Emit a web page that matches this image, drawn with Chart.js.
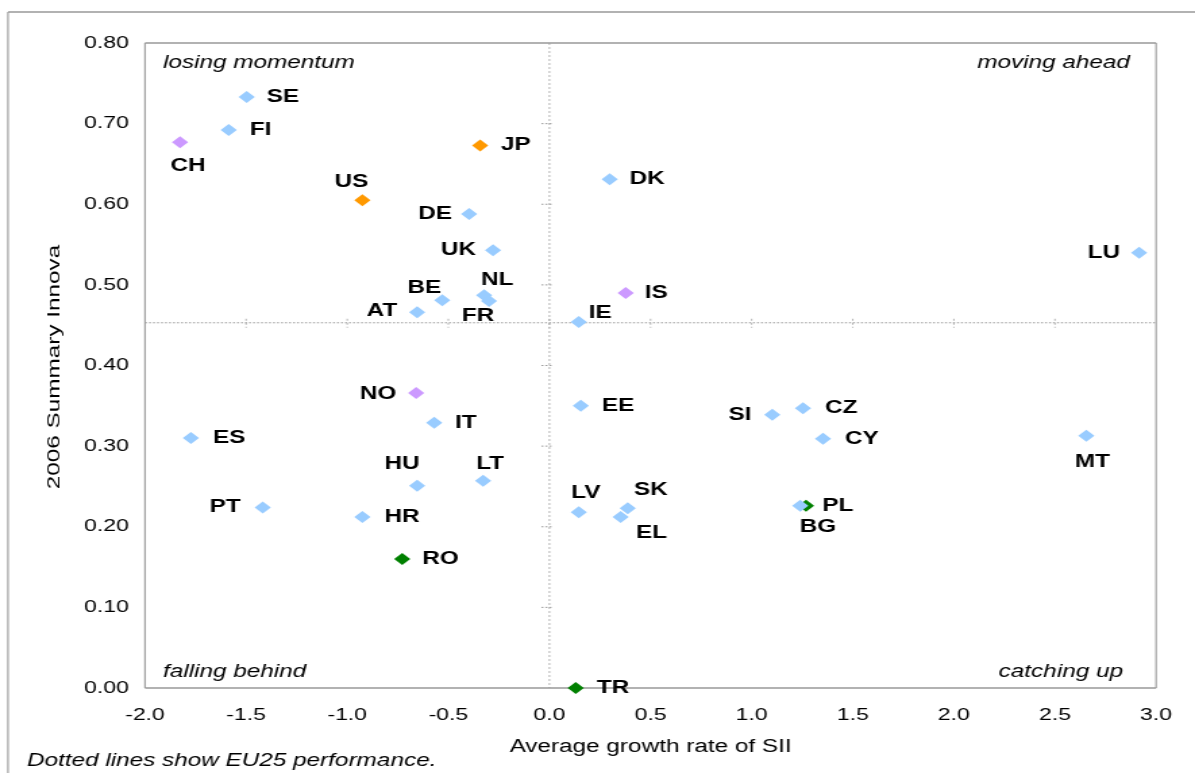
<!DOCTYPE html>
<html>
<head>
<meta charset="utf-8">
<title>Summary Innovation Index vs growth</title>
<script src="https://cdn.jsdelivr.net/npm/chart.js@4.4.1/dist/chart.umd.min.js"></script>
<style>
  html, body { margin: 0; padding: 0; background: #fff; overflow: hidden; }
  #wrap { width: 885px; height: 773px; transform-origin: 0 0; }
</style>
</head>
<body>
<div id="wrap"><canvas id="chart" width="885" height="773"></canvas></div>
<script>
// EU member states
const euCodes  = ['SE', 'FI', 'DK', 'DE', 'UK', 'LU', 'NL', 'FR', 'BE', 'AT', 'IE', 'EE', 'SI', 'CZ', 'IT', 'ES', 'CY', 'MT', 'HU', 'LT', 'PT', 'HR', 'LV', 'SK', 'EL', 'PL'];
const euGrowth = [-1.497, -1.586, 0.298, -0.397, -0.279, 2.916, -0.323, -0.299, -0.530, -0.654, 0.145, 0.155, 1.102, 1.254, -0.570, -1.773, 1.353, 2.655, -0.654, -0.328, -1.418, -0.925, 0.145, 0.387, 0.352, 1.240];
const euSII    = [0.733, 0.692, 0.631, 0.588, 0.543, 0.540, 0.487, 0.480, 0.481, 0.466, 0.454, 0.350, 0.339, 0.347, 0.329, 0.310, 0.309, 0.313, 0.251, 0.257, 0.224, 0.212, 0.218, 0.223, 0.212, 0.226];

// associated countries
const assocCodes  = ['CH', 'IS', 'NO'];
const assocGrowth = [-1.827, 0.377, -0.659];
const assocSII    = [0.677, 0.490, 0.366];

// US and Japan
const otherCodes  = ['JP', 'US'];
const otherGrowth = [-0.343, -0.925];
const otherSII    = [0.673, 0.605];

// candidate countries
const candCodes  = ['BG', 'RO', 'TR'];
const candGrowth = [1.269, -0.728, 0.130];
const candSII    = [0.226, 0.160, 0.000];

// EU25 reference (dotted lines)
const eu25Growth = 0;
const eu25SII = 0.453;

const xTickValues = [-2, -1.5, -1, -0.5, 0, 0.5, 1, 1.5, 2, 2.5, 3];
const xTickLabels = ['-2.0', '-1.5', '-1.0', '-0.5', '0.0', '0.5', '1.0', '1.5', '2.0', '2.5', '3.0'];
const yTickValues = [0, 0.1, 0.2, 0.3, 0.4, 0.5, 0.6, 0.7, 0.8];
const yTickLabels = ['0.00', '0.10', '0.20', '0.30', '0.40', '0.50', '0.60', '0.70', '0.80'];

// label placement: [dx, dy, align] in screen pixels from the marker
const labelPlace = {
  SE: [20, 0, 'left'], FI: [21, 0, 'left'], DK: [20, 0, 'left'], DE: [-17, 0, 'right'],
  UK: [-17, 0, 'right'], LU: [-19, 0, 'right'], NL: [13, -15, 'center'], FR: [-11, 15, 'center'],
  BE: [-18, -12, 'center'], AT: [-20, -1, 'right'], IE: [10, -9, 'left'], EE: [21, 0, 'left'],
  SI: [-21, 0, 'right'], CZ: [22, 0, 'left'], IT: [21, 0, 'left'], ES: [22, 0, 'left'],
  CY: [22, 0, 'left'], MT: [6, 26, 'center'], HU: [-15, -22, 'center'], LT: [7, -17, 'center'],
  PT: [-22, 0, 'right'], HR: [22, 0, 'left'], LV: [7, -19, 'center'], SK: [23, -18, 'center'],
  EL: [31, 16, 'center'], PL: [22, 0, 'left'], CH: [8, 24, 'center'], IS: [19, 0, 'left'],
  NO: [-20, 1, 'right'], JP: [21, 0, 'left'], US: [-11, -18, 'center'], BG: [12, 21, 'center'],
  RO: [20, 0, 'left'], TR: [21, 0, 'left']
};

// the original is rendered with horizontally stretched text, so the canvas is drawn narrow and scaled
const W = 885, H = 773;
const S = 1195 / W;
document.getElementById('wrap').style.transform = `scaleX(${S})`;

const FONT = "'Liberation Sans', Arial, sans-serif";
const GREY = '#999999';
Chart.defaults.font.family = FONT;
Chart.defaults.color = '#000';

function points(xs, ys) {
  return xs.map((v, i) => ({ x: v, y: ys[i] }));
}

function series(label, codes, xs, ys, color) {
  return {
    label, codes,
    data: points(xs, ys),
    pointStyle: 'rectRot',
    pointRadius: 6,
    pointBackgroundColor: color,
    pointBorderWidth: 0,
    borderColor: color,
    showLine: false,
    clip: false
  };
}

const framePlugin = {
  id: 'frame',
  beforeDraw(chart) {
    const ctx = chart.ctx;
    ctx.save();
    ctx.fillStyle = '#fff';
    ctx.fillRect(0, 0, chart.width, chart.height);
    ctx.strokeStyle = GREY;
    ctx.lineWidth = 1.5;
    ctx.beginPath();
    ctx.moveTo(8 / S, 12); ctx.lineTo(chart.width, 12);
    ctx.stroke();
    ctx.lineWidth = 1.5 / S;
    ctx.beginPath();
    ctx.moveTo(8 / S, 12); ctx.lineTo(8 / S, chart.height);
    ctx.stroke();
    ctx.restore();
  },
  beforeDatasetsDraw(chart) {
    const { ctx, chartArea: a, scales: { x, y } } = chart;
    const px = x.getPixelForValue(eu25Growth);
    const py = y.getPixelForValue(eu25SII);
    ctx.save();
    ctx.strokeStyle = GREY;

    // horizontal pieces
    ctx.lineWidth = 1;
    ctx.setLineDash([2 / S, 2 / S]);
    ctx.beginPath();
    ctx.moveTo(a.left, py); ctx.lineTo(a.right, py);
    yTickValues.forEach(v => {
      if (v <= 0 || v >= 0.8) return;
      const ty = y.getPixelForValue(v);
      ctx.moveTo(px - 8 / S, ty); ctx.lineTo(px + 4 / S, ty);
    });
    ctx.stroke();

    // vertical pieces
    ctx.lineWidth = 1 / S;
    ctx.setLineDash([2, 2]);
    ctx.beginPath();
    ctx.moveTo(px, a.top); ctx.lineTo(px, a.bottom);
    xTickValues.forEach(v => {
      if (v <= -2 || v >= 3) return;
      const tx = x.getPixelForValue(v);
      ctx.moveTo(tx, py - 4); ctx.lineTo(tx, py + 5);
    });
    ctx.stroke();

    // plot area border
    ctx.setLineDash([]);
    ctx.lineWidth = 1.5;
    ctx.beginPath();
    ctx.moveTo(a.left, a.top); ctx.lineTo(a.right, a.top);
    ctx.moveTo(a.left, a.bottom); ctx.lineTo(a.right, a.bottom);
    ctx.stroke();
    ctx.lineWidth = 1.5 / S;
    ctx.beginPath();
    ctx.moveTo(a.left, a.top); ctx.lineTo(a.left, a.bottom);
    ctx.moveTo(a.right, a.top); ctx.lineTo(a.right, a.bottom);
    ctx.stroke();
    ctx.restore();
  },
  afterDatasetsDraw(chart) {
    const { ctx } = chart;
    ctx.save();
    ctx.fillStyle = '#000';

    // country codes
    ctx.font = `bold 18px ${FONT}`;
    ctx.textBaseline = 'middle';
    chart.data.datasets.forEach((ds, i) => {
      chart.getDatasetMeta(i).data.forEach((pt, j) => {
        const code = ds.codes[j];
        const [dx, dy, align] = labelPlace[code];
        ctx.textAlign = align;
        ctx.fillText(code, pt.x + dx / S, pt.y + dy);
      });
    });

    // quadrant captions and note
    ctx.font = `italic 18px ${FONT}`;
    ctx.textBaseline = 'alphabetic';
    ctx.textAlign = 'left';
    ctx.fillText('losing momentum', 163 / S, 68);
    ctx.fillText('falling behind', 163 / S, 677);
    ctx.fillText('Dotted lines show EU25 performance.', 27 / S, 766);
    ctx.textAlign = 'right';
    ctx.fillText('moving ahead', 1130 / S, 68);
    ctx.fillText('catching up', 1123 / S, 677);

    // y axis title, stretched along the text direction like the rest
    ctx.font = `18px ${FONT}`;
    ctx.textAlign = 'center';
    ctx.textBaseline = 'middle';
    ctx.translate(54 / S, 367);
    ctx.scale(1 / S, 1);
    ctx.rotate(-Math.PI / 2);
    ctx.scale(S, 1);
    ctx.fillText('2006 Summary Innova', 0, 0);
    ctx.restore();
  }
};

new Chart(document.getElementById('chart'), {
  type: 'scatter',
  data: {
    datasets: [
      series('EU', euCodes, euGrowth, euSII, '#99CCFF'),
      series('Associated', assocCodes, assocGrowth, assocSII, '#CC99FF'),
      series('US / JP', otherCodes, otherGrowth, otherSII, '#FF9900'),
      series('Candidates', candCodes, candGrowth, candSII, '#008000')
    ]
  },
  options: {
    responsive: false,
    animation: false,
    events: [],
    layout: { padding: { top: 43, right: W - 1159 / S, left: 0, bottom: 0 } },
    plugins: { legend: { display: false }, tooltip: { enabled: false } },
    scales: {
      x: {
        type: 'linear', min: -2, max: 3,
        grid: { display: false, drawTicks: false },
        border: { display: false },
        afterBuildTicks: s => { s.ticks = xTickValues.map(value => ({ value })); },
        afterFit: s => { s.height = H - 688; },
        ticks: {
          autoSkip: false, maxRotation: 0, padding: 17,
          font: { size: 17 },
          callback: (v, i) => xTickLabels[i]
        },
        title: {
          display: true, text: 'Average growth rate of SII',
          font: { size: 18 }, padding: { top: 0, bottom: 15 }
        }
      },
      y: {
        type: 'linear', min: 0, max: 0.8,
        grid: { display: false, drawTicks: false },
        border: { display: false },
        afterBuildTicks: s => { s.ticks = yTickValues.map(value => ({ value })); },
        afterFit: s => { s.width = 145 / S; },
        ticks: {
          autoSkip: false, padding: 12,
          font: { size: 17 },
          callback: (v, i) => yTickLabels[i]
        }
      }
    }
  },
  plugins: [framePlugin]
});
</script>
</body>
</html>
